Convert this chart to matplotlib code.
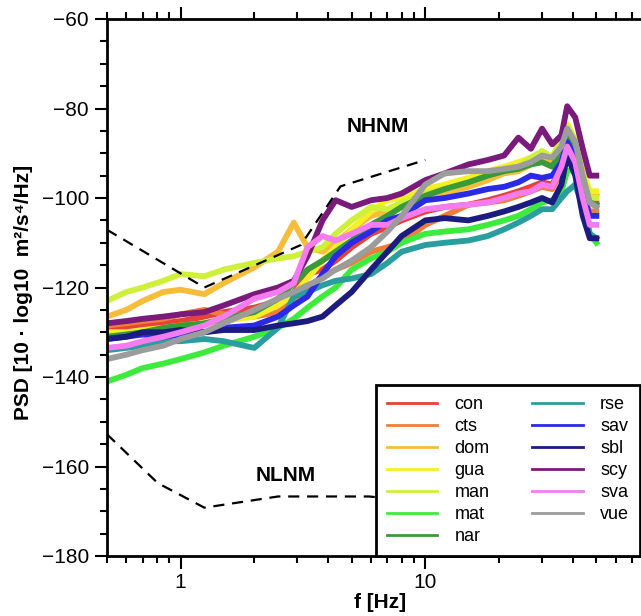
import numpy as np
import matplotlib
matplotlib.use("Agg")
import matplotlib.pyplot as plt

# =====================================================
# DATA
# =====================================================

freqs = [0.5, 0.6, 0.7, 0.85, 1.0, 1.25, 1.5, 2.0, 2.5, 2.9, 3.3, 3.8, 4.3, 5, 6, 7, 8,
         10, 12, 15, 18, 21, 24, 27, 30, 33, 36, 38, 41, 44, 47, 50]

stations = ["con", "cts", "dom", "gua", "man", "mat", "nar",
            "rse", "sav", "sbl", "scy", "sva", "vue"]

colors = ["#e8403a", "#f07d3a", "#f5bd3a", "#f5ef25", "#cff03a", "#3ceb3c", "#3a9a3a",
          "#2a9e9e", "#2a2ae6", "#1c1c80", "#7a1a7a", "#f47cf0", "#9c9c9c"]

con = [-129.5, -129, -128.5, -128, -127.5, -126.5, -125.5, -124.5, -123, -121, -117, -116, -114,
       -111, -108, -106.5, -105, -103, -102, -101.5, -100.5, -99.5, -98.5, -97.5, -96.5, -97,
       -93, -89, -92, -99, -101, -101]
cts = [-128.5, -128, -127.5, -127, -126, -125, -126, -126.5, -125.5, -123, -120, -117.5, -116,
       -114.5, -112, -111, -110, -106, -104, -101.5, -101, -100.5, -99.5, -98.5, -97.5, -98,
       -94, -90, -93, -100, -103, -103]
dom = [-126.5, -125, -123, -121, -120.5, -121.5, -119, -115.5, -112, -105.5, -111, -112, -110,
       -107, -104, -103, -102, -100, -99, -97.5, -96, -94.5, -94, -92.5, -91, -92,
       -88, -85, -88.5, -95, -99, -99.5]
gua = [-130, -130, -129.5, -129, -128.5, -128, -127.5, -126.5, -124, -121.5, -118, -114, -111,
       -107, -103, -100.5, -100, -98, -97, -95.5, -94, -93, -92, -91, -90.5, -91,
       -87, -83.5, -87, -94, -98.5, -98.5]
man = [-123, -121, -120, -118.5, -117, -117.5, -116, -114.5, -113.5, -113, -112, -111, -108,
       -105, -102, -102.5, -101, -99, -98, -96.5, -95, -93.5, -93, -91, -89.5, -91,
       -86.5, -84, -87, -95, -100, -100]
mat = [-141, -139.5, -138, -137, -136, -134.5, -133, -131, -129, -127, -124.5, -122, -120,
       -116, -113.5, -112, -110, -108, -107.5, -107, -106, -105, -104, -102.5, -101, -100.5,
       -98.5, -94, -93.5, -99, -108, -110]
nar = [-131, -130.5, -130, -129, -128.5, -128, -127, -125.5, -122.5, -119, -116, -114, -112,
       -109.5, -106, -104, -102, -99.5, -98, -96.5, -95, -94, -93.5, -92.5, -92, -93,
       -89.5, -86, -90, -97, -101, -101.5]
rse = [-134, -133.5, -133, -132, -132, -131.5, -132, -133.5, -129, -122, -121, -119.5, -118.5,
       -118, -117, -114.5, -112, -110.5, -110, -109.5, -108.5, -107, -105.5, -104, -102.5, -102.5,
       -100, -98.5, -97, -102, -108, -109]
sav = [-131.5, -131, -130.5, -131, -130.5, -130, -129, -128.5, -126.5, -124, -122, -117, -113,
       -110, -107.5, -105, -104, -100.5, -100, -99, -98, -97.5, -96.5, -95, -95.5, -95,
       -92, -87.5, -91, -99, -104, -104]
sbl = [-131.5, -131, -130, -130, -129.5, -130, -129.5, -129.5, -128.5, -128, -127.5, -126.5, -124,
       -121, -116, -112, -108.5, -105, -104.5, -105, -104, -103, -102, -101, -100, -101,
       -97, -90.5, -95, -104, -109, -109]
scy = [-128, -127.5, -127, -126.5, -126, -125.5, -124, -121.5, -120, -118.5, -113, -105, -100.5,
       -102, -100.5, -100, -99, -96, -94.5, -92.5, -91.5, -90.5, -86.5, -89, -84.5, -88,
       -86, -79.5, -82, -89, -95, -95]
sva = [-133.5, -133, -132, -131, -130, -128.5, -126.5, -122.5, -121, -119, -111, -108.5, -109.5,
       -108, -106, -106, -104.5, -102.5, -102, -101.5, -101, -100, -99, -98.5, -97, -97.5,
       -93, -88.5, -92, -100, -106, -106]
vue = [-136, -135, -134, -133, -131.5, -130, -128, -125, -122.5, -121, -119.5, -118, -116,
       -114, -111, -107.5, -104, -97, -94.5, -94, -94, -93.5, -93, -92, -90.5, -91,
       -88.5, -84.5, -87.5, -95, -101, -102]

psd = [con, cts, dom, gua, man, mat, nar, rse, sav, sbl, scy, sva, vue]

# Peterson noise models
nhnm_f = [0.5, 1.25, 3.1, 4.5, 10]
nhnm_db = [-107.1, -120.0, -110.5, -97.4, -91.5]
nlnm_f = [0.5, 0.806, 1.25, 2.5, 5.9, 10]
nlnm_db = [-152.8, -163.7, -169.2, -166.7, -166.7, -168.0]

# =====================================================
# FIGURE
# =====================================================

plt.rcParams["font.family"] = ["Liberation Sans", "DejaVu Sans"]

fig = plt.figure(figsize=(6.41, 6.16), dpi=100)
# axes runs on past the right edge (to 100 Hz), as in the cropped original
ax = fig.add_axes([107 / 641, 60 / 616, 563 / 641, 537 / 616])

for name, col, vals in zip(stations, colors, psd):
    ax.plot(freqs, vals, color=col, linewidth=4.2, solid_joinstyle="round")

ax.plot(nhnm_f, nhnm_db, color="black", linewidth=1.6, dashes=(5, 3.5))
ax.plot(nlnm_f, nlnm_db, color="black", linewidth=1.6, dashes=(5, 3.5))

ax.text(6.37, -84.1, "NHNM", fontsize=15, fontweight="bold", ha="center", va="center")
ax.text(2.68, -162.1, "NLNM", fontsize=15, fontweight="bold", ha="center", va="center")

ax.set_xscale("log")
ax.set_xlim(0.5, 100)
ax.set_ylim(-180, -60)

ax.set_xticks([1, 10])
ax.set_xticklabels(["1", "10"])
ax.xaxis.set_minor_locator(matplotlib.ticker.LogLocator(subs=np.arange(2, 10)))
ax.xaxis.set_minor_formatter(matplotlib.ticker.NullFormatter())
ax.set_yticks(np.arange(-180, -59, 20))
ax.yaxis.set_minor_locator(matplotlib.ticker.MultipleLocator(5))

ax.tick_params(which="both", direction="out", top=True, right=False, width=1.5,
               labelsize=15)
ax.tick_params(axis="x", pad=3)
ax.tick_params(axis="y", pad=4)
ax.tick_params(which="major", length=9)
ax.tick_params(which="minor", length=5)
for sp in ax.spines.values():
    sp.set_linewidth(2)

ax.set_xlabel("f [Hz]", fontsize=15, fontweight="bold")
ax.xaxis.set_label_coords((380 - 107) / 563, -0.068)
ax.set_ylabel("PSD [10 · log10  m²/s⁴/Hz]", fontsize=15, fontweight="bold")
ax.yaxis.set_label_coords(-(107 - 33) / 563, 0.49)

handles = [plt.Line2D([], [], color=c, linewidth=2) for c in colors]
leg = ax.legend(handles, stations, loc="lower left",
                bbox_to_anchor=(269 / 563, 0.0, 264 / 563, 0.3), mode="expand",
                borderaxespad=0, ncol=2, fontsize=13, frameon=True, fancybox=False,
                handlelength=2.8, handletextpad=0.95, columnspacing=1.5,
                labelspacing=0.28, borderpad=0.6)
leg.get_frame().set_edgecolor("black")
leg.get_frame().set_linewidth(2)
leg.get_frame().set_alpha(1)

plt.savefig("out.png", dpi=100)
